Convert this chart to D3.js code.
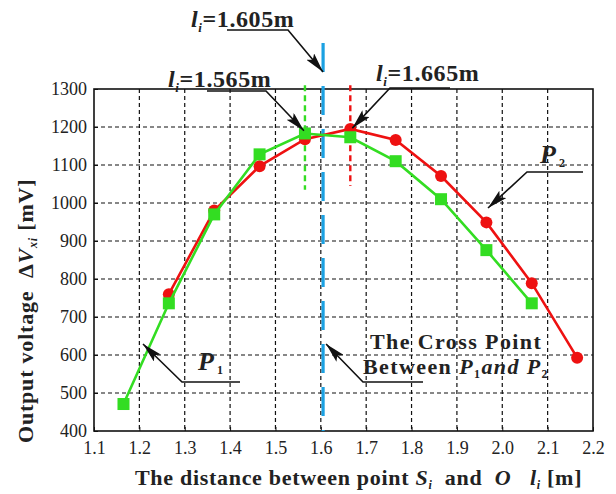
<!DOCTYPE html>
<html>
<head>
<meta charset="utf-8">
<script src="https://cdn.jsdelivr.net/npm/d3@7"></script>
<style>
  body { margin: 0; background: #fff; }
  text { font-family: "Liberation Serif", "Times New Roman", serif; white-space: pre; }
</style>
</head>
<body>
<script>
// data
var xRed = [1.265, 1.365, 1.465, 1.565, 1.665, 1.765, 1.865, 1.965, 2.065, 2.165];
var yRed = [760, 980, 1097, 1168, 1195, 1166, 1071, 949, 789, 593];
var xGreen = [1.165, 1.265, 1.365, 1.465, 1.565, 1.665, 1.765, 1.865, 1.965, 2.065];
var yGreen = [471, 736, 970, 1128, 1183, 1173, 1110, 1010, 876, 736];
var xTicks = [1.1, 1.2, 1.3, 1.4, 1.5, 1.6, 1.7, 1.8, 1.9, 2.0, 2.1, 2.2];
var yTicks = [400, 500, 600, 700, 800, 900, 1000, 1100, 1200, 1300];
var crossX = 1.605, greenPeakX = 1.565, redPeakX = 1.665;

var margin = {top: 89, right: 23, bottom: 63, left: 94},
    width = 616 - margin.left - margin.right,
    height = 494 - margin.top - margin.bottom;

var svg = d3.select("body").append("svg")
    .attr("width", 616)
    .attr("height", 494);

var defs = svg.append("defs");
defs.append("marker")
    .attr("id", "arr")
    .attr("viewBox", "0 0 20 10")
    .attr("refX", 20).attr("refY", 5)
    .attr("markerWidth", 20).attr("markerHeight", 10)
    .attr("markerUnits", "userSpaceOnUse")
    .attr("orient", "auto")
  .append("path")
    .attr("d", "M0,0 L20,5 L0,10 L4,5 Z")
    .attr("fill", "#111");

var g = svg.append("g")
    .attr("transform", "translate(" + margin.left + "," + margin.top + ")");

var x = d3.scaleLinear().domain([1.1, 2.2]).range([0, width]);
var y = d3.scaleLinear().domain([400, 1300]).range([height, 0]);

// grid
g.append("g").selectAll("line")
    .data(xTicks.slice(1, -1))
  .enter().append("line")
    .attr("x1", function(d) { return x(d); }).attr("x2", function(d) { return x(d); })
    .attr("y1", 0).attr("y2", height)
    .attr("stroke", "#111").attr("stroke-width", 1.2).attr("stroke-dasharray", "4,3");
g.append("g").selectAll("line")
    .data(yTicks.slice(1, -1))
  .enter().append("line")
    .attr("y1", function(d) { return y(d); }).attr("y2", function(d) { return y(d); })
    .attr("x1", 0).attr("x2", width)
    .attr("stroke", "#111").attr("stroke-width", 1.2).attr("stroke-dasharray", "4,3");

// axes (inward ticks)
var xAxis = d3.axisBottom(x).tickValues(xTicks).tickFormat(d3.format(".1f")).tickSize(-4).tickPadding(10);
var yAxis = d3.axisLeft(y).tickValues(yTicks).tickFormat(d3.format("d")).tickSize(-4).tickPadding(7);

var gx = g.append("g").attr("transform", "translate(0," + height + ")").call(xAxis);
var gy = g.append("g").call(yAxis);
[gx, gy].forEach(function(a) {
  a.attr("font-family", null);
  a.select(".domain").remove();
  a.selectAll("line").attr("stroke", "#111");
  a.selectAll("text").attr("font-size", 18).attr("fill", "#222");
});
gx.selectAll("text").attr("dy", "0.71em");

g.append("rect")
    .attr("width", width).attr("height", height)
    .attr("fill", "none").attr("stroke", "#111").attr("stroke-width", 1.6);

// vertical markers
g.append("line")
    .attr("x1", x(crossX)).attr("x2", x(crossX))
    .attr("y1", 43 - margin.top).attr("y2", height)
    .attr("stroke", "#1ba1e2").attr("stroke-width", 3.2).attr("stroke-dasharray", "29,14");
g.append("line")
    .attr("x1", x(greenPeakX)).attr("x2", x(greenPeakX))
    .attr("y1", y(1310)).attr("y2", y(1035))
    .attr("stroke", "#33dd22").attr("stroke-width", 2.4).attr("stroke-dasharray", "6,4");
g.append("line")
    .attr("x1", x(redPeakX)).attr("x2", x(redPeakX))
    .attr("y1", y(1310)).attr("y2", y(1045))
    .attr("stroke", "#ee1111").attr("stroke-width", 2.4).attr("stroke-dasharray", "6,4");

// series
var red = xRed.map(function(d, i) { return [d, yRed[i]]; });
var green = xGreen.map(function(d, i) { return [d, yGreen[i]]; });
var line = d3.line().x(function(d) { return x(d[0]); }).y(function(d) { return y(d[1]); });

g.append("path").datum(red).attr("d", line)
    .attr("fill", "none").attr("stroke", "#ee1111").attr("stroke-width", 2.6);
g.selectAll(".dot").data(red)
  .enter().append("circle")
    .attr("class", "dot")
    .attr("cx", function(d) { return x(d[0]); })
    .attr("cy", function(d) { return y(d[1]); })
    .attr("r", 6)
    .attr("fill", "#ee1111");

g.append("path").datum(green).attr("d", line)
    .attr("fill", "none").attr("stroke", "#33dd22").attr("stroke-width", 2.6);
g.selectAll(".sq").data(green)
  .enter().append("rect")
    .attr("class", "sq")
    .attr("x", function(d) { return x(d[0]) - 6; })
    .attr("y", function(d) { return y(d[1]) - 6; })
    .attr("width", 12).attr("height", 12)
    .attr("fill", "#33dd22");

// annotations (svg coords)
function leader(pts) {
  svg.append("polyline")
    .attr("points", pts.map(function(p) { return p.join(","); }).join(" "))
    .attr("fill", "none").attr("stroke", "#111").attr("stroke-width", 1.6)
    .attr("marker-end", "url(#arr)");
}
function liLabel(tx, ty, val) {
  var t = svg.append("text").attr("x", tx).attr("y", ty)
      .attr("font-size", 24).attr("font-weight", "bold").attr("fill", "#222")
      .attr("letter-spacing", 0.6);
  t.append("tspan").attr("font-style", "italic").text("l");
  t.append("tspan").attr("font-style", "italic").attr("font-size", 13).attr("dy", 5).text("i");
  t.append("tspan").attr("dy", -5).text("=" + val + "m");
}
var X = function(v) { return margin.left + x(v); };
var Y = function(v) { return margin.top + y(v); };

liLabel(191, 27, "1.605");
leader([[227, 30], [288, 30], [X(crossX), 72]]);

liLabel(168, 87, "1.565");
leader([[207, 91], [266, 91], [X(greenPeakX) - 1, Y(1190)]]);

liLabel(376, 81, "1.665");
leader([[450, 88], [390, 88], [X(redPeakX) + 2, Y(1197)]]);

var p2 = svg.append("text").attr("x", 540).attr("y", 163)
    .attr("font-size", 26).attr("font-weight", "bold").attr("fill", "#222");
p2.append("tspan").attr("font-style", "italic").text("P");
p2.append("tspan").attr("font-size", 12).attr("dx", 3).attr("dy", 4).text("2");
leader([[583, 172], [527, 172], [488, 208]]);

var p1 = svg.append("text").attr("x", 198).attr("y", 370)
    .attr("font-size", 26).attr("font-weight", "bold").attr("fill", "#222");
p1.append("tspan").attr("font-style", "italic").text("P");
p1.append("tspan").attr("font-size", 12).attr("dx", 3).attr("dy", 4).text("1");
leader([[240, 382], [182, 382], [143, 344]]);

svg.append("text").attr("x", 370).attr("y", 349)
    .attr("font-size", 22).attr("font-weight", "bold").attr("fill", "#222")
    .attr("letter-spacing", 1.4)
    .text("The Cross Point");
var bt = svg.append("text").attr("x", 363).attr("y", 374)
    .attr("font-size", 22).attr("font-weight", "bold").attr("fill", "#222")
    .attr("letter-spacing", 1.4);
bt.append("tspan").text("Between ");
bt.append("tspan").attr("font-style", "italic").text("P");
bt.append("tspan").attr("font-size", 12).attr("dy", 4).text("1");
bt.append("tspan").attr("font-style", "italic").attr("dy", -4).text("and ");
bt.append("tspan").attr("font-style", "italic").text("P");
bt.append("tspan").attr("font-size", 12).attr("dy", 4).text("2");
leader([[423, 382], [363, 382], [X(crossX) + 3, 344]]);

// axis titles
var xt = svg.append("text").attr("x", 135).attr("y", 485)
    .attr("font-size", 22).attr("font-weight", "bold").attr("fill", "#222")
    .attr("letter-spacing", 0.7);
xt.append("tspan").text("The distance between point ");
xt.append("tspan").attr("font-style", "italic").text("S");
xt.append("tspan").attr("font-style", "italic").attr("font-size", 12).attr("dy", 4).text("i");
xt.append("tspan").attr("dy", -4).text("  and  ");
xt.append("tspan").attr("font-style", "italic").text("O");
xt.append("tspan").text("   ");
xt.append("tspan").attr("font-style", "italic").text("l");
xt.append("tspan").attr("font-style", "italic").attr("font-size", 12).attr("dy", 4).text("i");
xt.append("tspan").attr("dy", -4).text(" [m]");

var yt = svg.append("text")
    .attr("transform", "translate(33,443) rotate(-90)")
    .attr("font-size", 22).attr("font-weight", "bold").attr("fill", "#222")
    .attr("letter-spacing", 0.8);
yt.append("tspan").text("Output voltage  Δ");
yt.append("tspan").attr("font-style", "italic").text("V");
yt.append("tspan").attr("font-style", "italic").attr("font-size", 12).attr("dy", 4).text("xi");
yt.append("tspan").attr("dy", -4).text(" [mV]");
</script>
</body>
</html>
